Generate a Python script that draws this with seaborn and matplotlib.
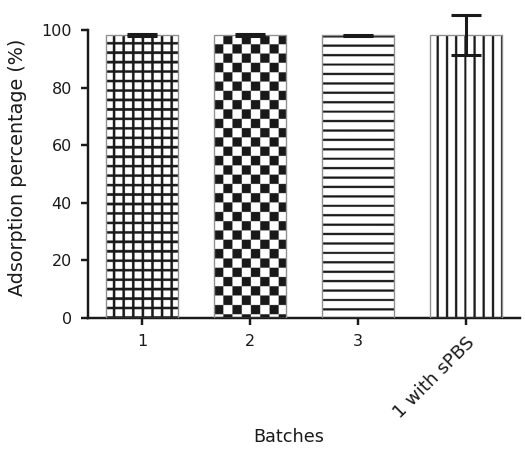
import numpy as np
import pandas as pd
import matplotlib
matplotlib.use("Agg")
import matplotlib.pyplot as plt
import seaborn as sns

batches = ["1", "2", "3", "1 with sPBS"]
means = [98.2, 98.2, 98.1, 98.2]
sds = [0.3, 0.3, 0.1, 7.0]
yticks = [0, 20, 40, 60, 80, 100]

sns.set_style("ticks")
plt.rcParams['font.family'] = ['DejaVu Sans']

DPI = 110
INK = "#1a1a1a"
fig = plt.figure(figsize=(525 / DPI, 452 / DPI), dpi=DPI)
ax = fig.add_axes([0.1676, 0.2965, 0.990 - 0.1676, 0.9336 - 0.2965])

df = pd.DataFrame({"Batches": batches, "Adsorption": means})
sns.barplot(data=df, x="Batches", y="Adsorption", ax=ax, color="white",
            width=0.67, errorbar=None, saturation=1)

ax.set_xlim(-0.5, 3.5)
ax.set_ylim(0, 100)

SS = 4  # supersampling


def line_mask(coords, offset, spacing, thick):
    rel = (coords - offset) % spacing
    return (rel < thick / 2) | (rel > spacing - thick / 2)


def pattern(kind, wpx, hpx):
    nx, ny = int(round(wpx * SS)), int(round(hpx * SS))
    xs = (np.arange(nx) + 0.5) / SS
    ys = (np.arange(ny) + 0.5) / SS
    X, Y = np.meshgrid(xs, ys)
    if kind == "grid":
        m = line_mask(X, 8.0, 9.5, 2.6) | line_mask(Y, 0.5, 9.45, 2.6)
    elif kind == "hlines":
        m = line_mask(hpx - Y, 10.7, 9.4, 2.2)
    elif kind == "vlines":
        m = line_mask(X, 7.7, 9.1, 2.2)
    else:  # checker
        cx = np.floor(X / 9.15).astype(int)
        cy = np.floor((hpx - Y) / 9.3).astype(int)
        m = ((cx + cy) % 2) == 1
    return np.where(m, 0.1, 1.0)


kinds = ["grid", "checker", "hlines", "vlines"]
fig.canvas.draw()
for patch, kind in zip(list(ax.patches), kinds):
    x0, w, hgt = patch.get_x(), patch.get_width(), patch.get_height()
    patch.set_facecolor("white")
    patch.set_edgecolor("none")
    p0 = ax.transData.transform((x0, 0))
    p1 = ax.transData.transform((x0 + w, hgt))
    wpx, hpx = p1[0] - p0[0], p1[1] - p0[1]
    arr = pattern(kind, wpx, hpx)
    im = ax.imshow(arr, cmap="gray", vmin=0, vmax=1, aspect="auto",
                   extent=(x0, x0 + w, 0, hgt), origin="lower",
                   interpolation="antialiased", zorder=2.5)
    im.set_clip_path(plt.Rectangle((x0, 0), w, hgt, transform=ax.transData))
    ax.add_patch(plt.Rectangle((x0, 0), w, hgt, facecolor="none", edgecolor="#909090",
                               linewidth=0.9, zorder=3))

ax.set_xlim(-0.5, 3.5)
ax.set_ylim(0, 100)

ax.errorbar(np.arange(len(batches)), means, yerr=sds, fmt="none", ecolor=INK,
            elinewidth=2, capsize=9.5, capthick=2, zorder=4, clip_on=False)

ax.set_yticks(yticks)
ax.set_yticklabels([str(v) for v in yticks])
ax.set_xticks(range(len(batches)))
ax.set_xticklabels(batches)
for lab in ax.get_xticklabels():
    if lab.get_text() == "1 with sPBS":
        lab.set_rotation(45)
        lab.set_ha("right")
        lab.set_rotation_mode("anchor")
        lab.set_fontsize(12)

for s in ["left", "bottom"]:
    ax.spines[s].set_linewidth(1.6)
    ax.spines[s].set_color(INK)
sns.despine(ax=ax)
ax.tick_params(axis="both", width=1.6, length=4.5, color=INK, labelsize=10.5,
               labelcolor=INK, pad=6)
for lab in ax.get_xticklabels():
    if lab.get_text() == "1 with sPBS":
        lab.set_fontsize(12)
ax.set_ylabel("Adsorption percentage (%)", fontsize=12.5, color=INK)
ax.yaxis.set_label_coords(-0.141, 0.524)
ax.set_xlabel("Batches", fontsize=11.5, color=INK)
ax.xaxis.set_label_coords(0.465, -0.382)
ax.xaxis.label.set_va("top")

fig.savefig("out.png", dpi=DPI)
